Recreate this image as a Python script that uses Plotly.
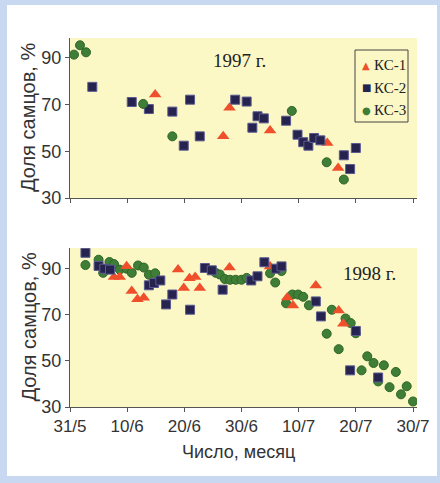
import plotly.graph_objects as go

# ---- data (day 0 = 31 May) ----
tick_days = [0, 10, 20, 30, 40, 50, 60]
tick_labels = ["31/5", "10/6", "20/6", "30/6", "10/7", "20/7", "30/7"]
y_ticks = [30, 50, 70, 90]

kc1_97_x = [14.9, 26.8, 27.9, 35.0, 45.0, 46.9]
kc1_97_y = [74.3, 56.4, 68.6, 58.9, 53.6, 42.9]
kc2_97_x = [3.9, 10.8, 13.8, 17.9, 19.9, 21.0, 22.7, 28.9, 30.9, 31.9, 32.8,
            33.9, 37.8, 39.8, 40.8, 41.7, 42.7, 43.8, 47.9, 49.0, 50.0]
kc2_97_y = [77.6, 71.1, 68.1, 67.0, 52.4, 72.1, 56.4, 72.1, 71.3, 60.1, 65.0,
            64.1, 63.1, 57.1, 53.9, 52.4, 55.7, 54.7, 48.3, 42.4, 51.4]
kc3_97_x = [0.7, 1.75, 2.8, 12.8, 17.9, 38.8, 44.9, 47.9]
kc3_97_y = [91.4, 95.4, 92.4, 70.3, 56.4, 67.3, 45.3, 37.9]

kc1_98_x = [7.7, 8.7, 9.9, 10.8, 11.8, 12.9, 18.9, 19.9, 20.9, 21.9, 22.7,
            27.9, 35.0, 38.0, 39.0, 43.0, 47.0, 47.8]
kc1_98_y = [86.4, 86.4, 91.1, 80.3, 76.7, 77.4, 89.7, 81.6, 85.9, 86.4, 81.6,
            90.5, 91.0, 77.5, 74.0, 82.7, 71.9, 66.1]
kc2_98_x = [2.7, 5.0, 6.0, 7.0, 13.8, 14.7, 15.8, 16.8, 17.9, 21.0, 23.6, 24.8,
            26.7, 31.7, 32.8, 34.0, 36.0, 37.0, 43.0, 43.9, 49.0, 50.0, 53.9]
kc2_98_y = [96.9, 91.2, 90.0, 89.6, 82.8, 83.8, 84.9, 74.5, 78.8, 72.2, 90.3, 89.3,
            80.9, 84.9, 86.7, 92.8, 90.0, 91.0, 75.8, 69.3, 45.9, 63.0, 42.8]
kc3_98_x = [2.7, 5.0, 5.8, 6.9, 7.7, 8.7, 9.9, 10.8, 11.9, 12.9, 13.8, 14.9,
            25.5, 26.2, 27.1, 28.0, 29.0, 30.0, 30.9, 35.0, 35.9, 37.0, 37.8,
            38.9, 39.9, 40.8, 41.8, 44.9, 45.8, 47.0, 48.2, 49.1, 50.0, 51.0,
            52.0, 53.1, 53.9, 54.9, 55.9, 57.0, 57.9, 58.9, 60.0]
kc3_98_y = [91.6, 93.9, 88.2, 92.9, 92.0, 89.6, 90.0, 88.2, 91.4, 90.5, 87.4, 88.0,
            88.2, 87.5, 85.5, 85.2, 85.2, 85.2, 86.0, 88.0, 84.0, 89.0, 75.0,
            78.8, 78.8, 77.8, 74.1, 61.8, 72.2, 55.1, 68.4, 66.4, 62.0, 45.9,
            52.0, 49.1, 41.1, 48.1, 38.6, 45.2, 35.5, 39.0, 32.4]

names = ["КС-1", "КС-2", "КС-3"]
legend_glyphs = ["▲", "■", "●"]

# ---- styles ----
W, H = 440, 483
RED = "#ef4f2b"
NAVY = "#26234f"
GREEN = "#3f7e36"
COLORS = [RED, NAVY, GREEN]
YELLOW = "#fbf8c6"
BLUE = "#c9d8f1"
AXIS = "#555555"
TXT = "#333333"
SANS = "Liberation Sans, Arial"
SERIF = "Liberation Serif, Times New Roman"

sty = {
    0: dict(symbol="triangle-up", size=11, color=RED, line=dict(width=0)),
    1: dict(symbol="square", size=9, color=NAVY, line=dict(width=1, color="#5b5a92")),
    2: dict(symbol="circle", size=9, color=GREEN, line=dict(width=1, color="#2f6528")),
}

fig = go.Figure()

sets97 = [(kc1_97_x, kc1_97_y), (kc2_97_x, kc2_97_y), (kc3_97_x, kc3_97_y)]
sets98 = [(kc1_98_x, kc1_98_y), (kc2_98_x, kc2_98_y), (kc3_98_x, kc3_98_y)]

for i, (xs, ys) in enumerate(sets97):
    fig.add_trace(go.Scatter(x=xs, y=ys, mode="markers", name=names[i],
                             marker=sty[i], xaxis="x", yaxis="y", showlegend=False))
for i in [2, 0, 1]:
    xs, ys = sets98[i]
    fig.add_trace(go.Scatter(x=xs, y=ys, mode="markers", name=names[i],
                             marker=sty[i], xaxis="x2", yaxis="y2", showlegend=False))

def px_x(p):
    return p / W

def px_y(p):
    return 1 - p / H

L, R = 70, 417
T1, B1 = 38, 198
T2, B2 = 248, 407

common_x = dict(range=[0, 60 * (R - L) / (413 - L)], tickvals=tick_days, ticktext=tick_labels,
                showgrid=False, zeroline=False, showline=True, linecolor=AXIS, linewidth=1,
                ticks="outside", ticklen=4, tickcolor=AXIS, automargin=False,
                tickfont=dict(family=SANS, size=17, color=TXT))
common_y = dict(tickvals=y_ticks, automargin=False,
                showgrid=False, zeroline=False, showline=True, linecolor=AXIS, linewidth=1,
                ticks="outside", ticklen=4, tickcolor=AXIS,
                tickfont=dict(family=SANS, size=18, color=TXT))

def rect(x0, y0, x1, y1, fill, line=None):
    d = dict(type="rect", xref="paper", yref="paper", x0=px_x(x0), x1=px_x(x1),
             y0=px_y(y1), y1=px_y(y0), fillcolor=fill, layer="above")
    d["line"] = line if line else dict(width=0)
    return d

shapes = [
    rect(0, 0, W, 5, BLUE),
    rect(0, 476, W, H, BLUE),
    rect(0, 0, 7, H, BLUE),
    rect(437, 0, W, H, BLUE),
    rect(355, 50, 408, 122, YELLOW, dict(width=1, color="#444444")),
]

def ann(text, x, y, font, **kw):
    d = dict(text=text, x=px_x(x), y=px_y(y), xref="paper", yref="paper",
             showarrow=False, xanchor="center", yanchor="middle", font=font)
    d.update(kw)
    return d

annotations = [
    ann("1997 г.", 240, 60, dict(family=SERIF, size=19, color="#222222")),
    ann("1998 г.", 369, 273, dict(family=SERIF, size=19, color="#222222")),
    ann("Доля самцов, %", 28, (T1 + B1) / 2, dict(family=SANS, size=20, color=TXT), textangle=-90),
    ann("Доля самцов, %", 28, (T2 + B2) / 2, dict(family=SANS, size=20, color=TXT), textangle=-90),
    ann("Число, месяц", 238, 452, dict(family=SANS, size=18, color=TXT)),
]
for k, (g, n) in enumerate(zip(legend_glyphs, names)):
    yy = 65 + k * 22.5
    annotations.append(ann(g, 366, yy, dict(family="DejaVu Sans", size=10, color=COLORS[k])))
    annotations.append(ann(n, 372, yy, dict(family=SERIF, size=15, color="#222222"), xanchor="left"))

fig.update_layout(
    width=W, height=H, margin=dict(l=0, r=0, t=0, b=0, autoexpand=False),
    paper_bgcolor="white", plot_bgcolor=YELLOW,
    xaxis=dict(common_x, domain=[px_x(L), px_x(R)], anchor="y", showticklabels=False),
    yaxis=dict(common_y, range=[30, 30 + 20 * (B1 - T1) / 46.7],
               domain=[px_y(B1), px_y(T1)], anchor="x"),
    xaxis2=dict(common_x, domain=[px_x(L), px_x(R)], anchor="y2"),
    yaxis2=dict(common_y, range=[30, 30 + 20 * (B2 - T2) / 46.1],
                domain=[px_y(B2), px_y(T2)], anchor="x2"),
    showlegend=False,
    shapes=shapes,
    annotations=annotations,
)

fig.write_html("out.html")
